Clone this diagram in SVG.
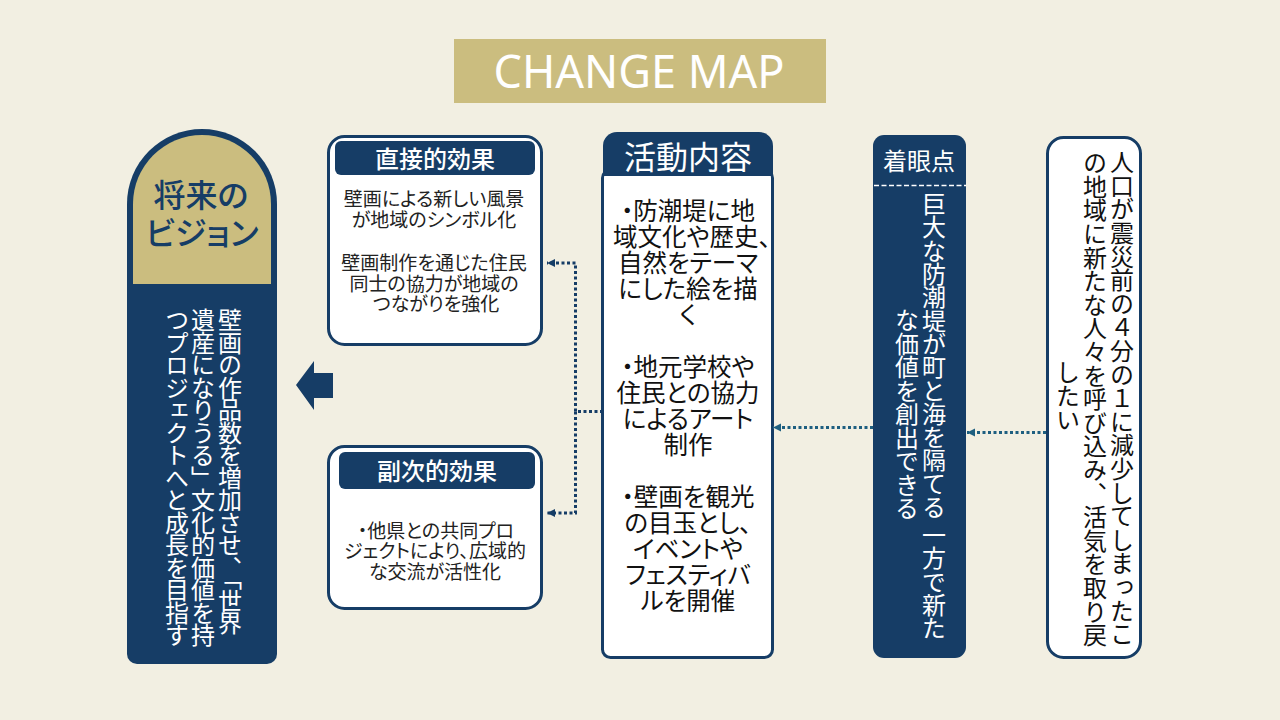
<svg xmlns="http://www.w3.org/2000/svg" width="1280" height="720" viewBox="0 0 1280 720">
<defs>
<style>
text{font-family:"Noto Sans CJK JP","Noto Sans",sans-serif;font-feature-settings:"palt"}
.n{fill:#163d66}
.w{fill:#fff}
.box{fill:#fff;stroke:#163d66;stroke-width:3}
.c{text-anchor:middle}
.v{writing-mode:vertical-rl;font-size:24px;font-feature-settings:normal}
.s{font-size:19px;fill:#222}
.m{font-size:24.500px;fill:#111}
.con{fill:none;stroke:#163d66;stroke-width:3;stroke-dasharray:3 2.500}
.teal{stroke:#1e5f80}
</style>
<marker id="ah" markerUnits="userSpaceOnUse" markerWidth="9" markerHeight="9" refX="8" refY="4" orient="auto"><path d="M0 0L8 4L0 8Z" fill="#163d66"/></marker>
<marker id="ah2" markerUnits="userSpaceOnUse" markerWidth="9" markerHeight="9" refX="8" refY="4" orient="auto"><path d="M0 0L8 4L0 8Z" fill="#1e5f80"/></marker>
</defs>
<rect width="1280" height="720" fill="#f2efe2"/>
<g id="title"><rect x="454" y="39" width="372" height="64" fill="#cbbd7f"/><text x="639" y="88" class="c" font-size="45" fill="#fff" style="font-family:'Noto Sans',sans-serif;font-feature-settings:normal">CHANGE MAP</text></g>
<g id="vision">
<path d="M127 654V204a75 75 0 0 1 150 0V654a10 10 0 0 1-10 10H137a10 10 0 0 1-10-10Z" class="n"/>
<path d="M133 284V204a69 69 0 0 1 138 0V284Z" fill="#cbbd7f"/>
<text x="201" y="207" class="c n" font-size="32" font-weight="500">将来の</text>
<text x="202" y="245" class="c n" font-size="32" font-weight="500">ビジョン</text>
<text x="230" y="308" class="v w" letter-spacing="-1.500">壁画の作品数を増加させ、「世界</text>
<text x="203" y="308" class="v w" letter-spacing="-1.500">遺産になりうる」文化的価値を持</text>
<text x="177" y="308" class="v w" letter-spacing="-1.500">つプロジェクトへと成長を目指す</text>
</g>
<g id="big-arrow"><path d="M296 385L314 361V373H333V398H314V410Z" class="n"/></g>
<g id="direct">
<rect x="328.500" y="136.500" width="213" height="208" rx="16" class="box"/>
<rect x="335" y="141" width="200" height="34" rx="6" class="n"/>
<text x="435" y="168" class="c w" font-size="24" font-weight="500">直接的効果</text>
<text x="434" y="206" class="c s">壁画による新しい風景</text>
<text x="434" y="227" class="c s">が地域のシンボル化</text>
<text x="434" y="270" class="c s">壁画制作を通じた住民</text>
<text x="434" y="291" class="c s">同士の協力が地域の</text>
<text x="436" y="311" class="c s">つながりを強化</text>
</g>
<g id="secondary">
<rect x="328.500" y="446.500" width="213" height="162" rx="16" class="box"/>
<rect x="339" y="452" width="196" height="37" rx="6" class="n"/>
<text x="437" y="480" class="c w" font-size="24" font-weight="500">副次的効果</text>
<text x="436" y="538" class="c s">・他県との共同プロ</text>
<text x="435" y="558" class="c s">ジェクトにより、広域的</text>
<text x="435" y="579" class="c s">な交流が活性化</text>
</g>
<g id="activity">
<rect x="602.500" y="170" width="170" height="487.500" rx="8" class="box"/>
<path d="M603 176V146a14 14 0 0 1 14-14H759a14 14 0 0 1 14 14V176Z" class="n"/>
<text x="688" y="169" class="c w" font-size="32">活動内容</text>
<g class="c m">
<text x="688" y="220">・防潮堤に地</text>
<text x="692" y="246">域文化や歴史、</text>
<text x="688" y="272">自然をテーマ</text>
<text x="688" y="298">にした絵を描</text>
<text x="688" y="324">く</text>
<text x="688" y="376">・地元学校や</text>
<text x="688" y="402">住民との協力</text>
<text x="688" y="428">によるアート</text>
<text x="688" y="454">制作</text>
<text x="688" y="506">・壁画を観光</text>
<text x="688" y="532">の目玉とし、</text>
<text x="688" y="558">イベントや</text>
<text x="688" y="584">フェスティバ</text>
<text x="688" y="610">ルを開催</text>
</g>
</g>
<g id="focus">
<rect x="873" y="135" width="93" height="523" rx="11" class="n"/>
<text x="919" y="170" class="c w" font-size="24">着眼点</text>
<path d="M874 185.500H966" stroke="#fff" stroke-width="1.500" stroke-dasharray="5 2.500"/>
<text x="934" y="192" class="v w" letter-spacing="-0.700">巨大な防潮堤が町と海を隔てる 一方で新た</text>
<text x="907" y="308" class="v w" letter-spacing="-0.500">な価値を創出できる</text>
</g>
<g id="background">
<rect x="1047.500" y="137.500" width="93" height="520" rx="16" class="box"/>
<text x="1122" y="150" class="v" fill="#111" letter-spacing="-0.400">人口が震災前の４分の１に減少してしまったこ</text>
<text x="1095" y="151" class="v" fill="#111" letter-spacing="-0.400">の地域に新たな人々を呼び込み、活気を取り戻</text>
<text x="1068" y="360" class="v" fill="#111">したい</text>
</g>
<g id="connectors">
<path d="M603 411.500H575.500V263H547" class="con" marker-end="url(#ah)"/>
<path d="M575.500 411.500V513H547" class="con" marker-end="url(#ah)"/>
<path d="M873 427.500H773" class="con teal" marker-end="url(#ah2)"/>
<path d="M1046 432.500H967" class="con teal" marker-end="url(#ah2)"/>
</g>
</svg>
